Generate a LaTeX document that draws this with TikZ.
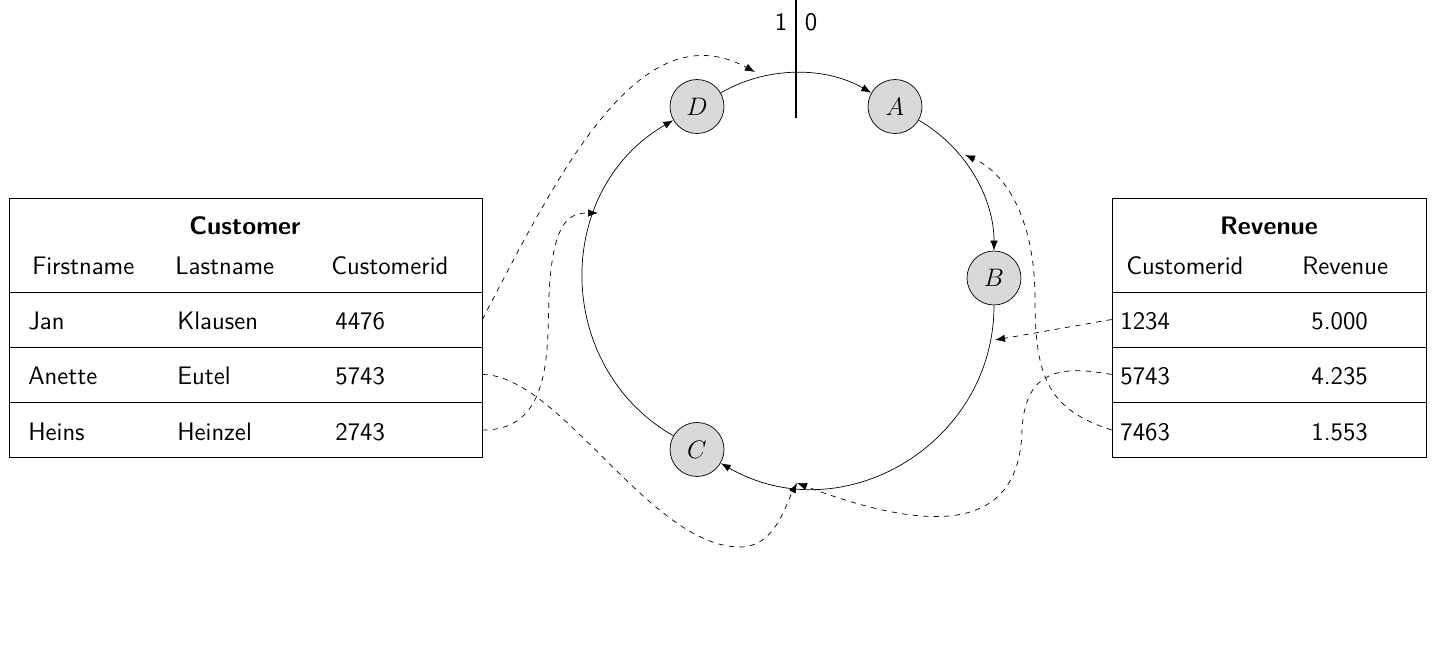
\documentclass[tikz,border=0pt]{standalone}
\usetikzlibrary{arrows.meta}
\renewcommand{\familydefault}{\sfdefault}
\begin{document}
\begin{tikzpicture}[font=\Large,
  peer/.style={circle, draw=black, fill=lightgray!60, minimum size=1.08cm, inner sep=0pt},
  cell/.style={draw=black, inner sep=0pt},
  txt/.style={anchor=base west, inner sep=0pt},
  ring/.style={-{Latex[length=2mm]}},
  link/.style={dashed, -{Latex[length=2mm]}}]
\useasboundingbox (0,0) rectangle (28.7,13.42);

% ring
\coordinate (ring) at (15.92,7.86);
\node[peer] (A) at ([shift={(60:3.96)}]ring) {$A$};
\node[peer] (B) at ([shift={(0:3.96)}]ring) {$B$};
\node[peer] (C) at ([shift={(240:3.96)}]ring) {$C$};
\node[peer] (D) at ([shift={(120:3.96)}]ring) {$D$};
\draw[ring] (D) to[bend left=30, looseness=0.91] (A);
\draw[ring] (A) to[bend left=30, looseness=0.91] (B);
\draw[ring] (B) to[bend left=60, looseness=1.13] (C);
\draw[ring] (C) to[bend left=60, looseness=1.13] (D);
\coordinate (top) at (15.92,13.42);
\coordinate (bot) at (15.92,11.06);
\draw[thick] (top) -- (bot);
\node (one) at (15.62,12.98) {1};
\node (zero) at (16.22,12.98) {0};

% customer table
\node[cell, minimum width=9.46cm, minimum height=1.88cm] (chead) at (4.91,8.52) {};
\node[cell, minimum width=9.46cm, minimum height=1.1cm] (jan) at (4.91,7.03) {};
\node[cell, minimum width=9.46cm, minimum height=1.1cm] (anette) at (4.91,5.93) {};
\node[cell, minimum width=9.46cm, minimum height=1.1cm] (heins) at (4.91,4.82) {};
\node[anchor=base] (ctitle) at (4.9,8.72) {\textbf{Customer}};
\node[txt] (cf) at (0.64,7.92) {Firstname};
\node[txt] (cl) at (3.5,7.92) {Lastname};
\node[txt] (ci) at (6.62,7.92) {Customerid};
\node[txt] (j1) at (0.56,6.82) {Jan};
\node[txt] (j2) at (3.54,6.82) {Klausen};
\node[txt] (j3) at (6.7,6.82) {4476};
\node[txt] (a1) at (0.56,5.72) {Anette};
\node[txt] (a2) at (3.54,5.72) {Eutel};
\node[txt] (a3) at (6.7,5.72) {5743};
\node[txt] (h1) at (0.56,4.62) {Heins};
\node[txt] (h2) at (3.54,4.62) {Heinzel};
\node[txt] (h3) at (6.7,4.62) {2743};

% revenue table
\node[cell, minimum width=6.28cm, minimum height=1.88cm] (rhead) at (25.38,8.52) {};
\node[cell, minimum width=6.28cm, minimum height=1.1cm] (r1234) at (25.38,7.03) {};
\node[cell, minimum width=6.28cm, minimum height=1.1cm] (r5743) at (25.38,5.93) {};
\node[cell, minimum width=6.28cm, minimum height=1.1cm] (r7463) at (25.38,4.82) {};
\node[anchor=base] (rtitle) at (25.38,8.72) {\textbf{Revenue}};
\node[txt] (ri) at (22.52,7.92) {Customerid};
\node[txt] (rr) at (26.04,7.92) {Revenue};
\node[txt] (x1) at (22.4,6.82) {1234};
\node[txt] (y1) at (26.22,6.82) {5.000};
\node[txt] (x2) at (22.4,5.72) {5743};
\node[txt] (y2) at (26.22,5.72) {4.235};
\node[txt] (x3) at (22.4,4.62) {7463};
\node[txt] (y3) at (26.22,4.62) {1.553};

% placements on the ring
\coordinate (t4476) at (15.1,11.98);
\coordinate (t5743) at (15.94,3.76);
\coordinate (t2743) at (11.96,9.16);
\coordinate (t1234) at (19.9,6.62);
\coordinate (t7463) at (19.3,10.32);
\draw[link] (jan.east) .. controls (11.2,10.02) and (12.8,13.22) .. (t4476);
\draw[link] (anette.east) .. controls (11.2,5.92) and (13.0,2.48) .. (14.8,2.48)
  .. controls (15.5,2.48) and (15.7,3.3) .. (t5743);
\draw[link] (heins.east) .. controls (11.2,4.8) and (10.9,6.8) .. (11.0,7.82)
  .. controls (11.1,9.02) and (11.4,9.16) .. (t2743);
\draw[link] (r1234.west) -- (t1234);
\draw[link] (r5743.west) .. controls (21.2,6.12) and (20.5,6.02) .. (20.44,4.82)
  .. controls (20.4,3.0) and (19.0,2.6) .. (t5743);
\draw[link] (r7463.west) .. controls (21.0,5.22) and (20.7,5.82) .. (20.7,7.42)
  .. controls (20.7,9.22) and (20.0,10.02) .. (t7463);
\end{tikzpicture}
\end{document}
